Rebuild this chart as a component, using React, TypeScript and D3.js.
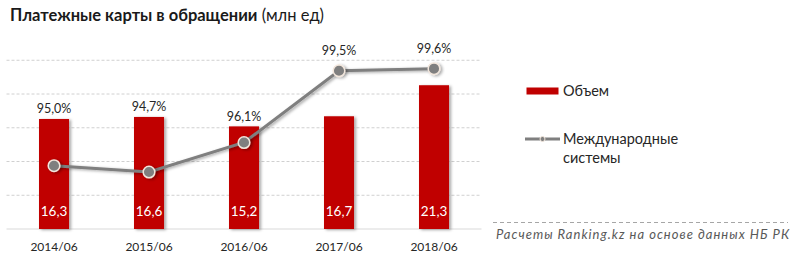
import React from "react";
import * as d3 from "d3";

const categories = ["2014/06", "2015/06", "2016/06", "2017/06", "2018/06"];
const volumes = [16.3, 16.6, 15.2, 16.7, 21.3];
const intlShare = [95.0, 94.7, 96.1, 99.5, 99.6];
const barTicks = [5, 10, 15, 20, 25];

const W = 800;
const H = 262;
const plotLeft = 6.5;
const plotRight = 481.5;
const plotTop = 60.25;
const plotBottom = 229;
const FONT = "Lato, 'Open Sans', sans-serif";
const fmt = (v: number, d: number) => v.toFixed(d).replace(".", ",");

export default function App() {
  const x = d3.scaleBand<string>().domain(categories).range([plotLeft, plotRight]).paddingInner(0.684).paddingOuter(0.342);
  const yBar = d3.scaleLinear().domain([0, 25]).range([plotBottom, plotTop]);
  const yLine = d3.scaleLinear().domain([92, 100]).range([plotBottom, plotTop]);
  const cx = (c: string) => (x(c) as number) + x.bandwidth() / 2;
  const line = d3
    .line<number>()
    .x((_, i) => cx(categories[i]))
    .y((d) => yLine(d));

  return (
    <svg width={W} height={H} style={{ position: "absolute", left: 0, top: 0, background: "#fff" }}>
      <defs>
        <filter id="sh" x="-30%" y="-30%" width="170%" height="170%">
          <feDropShadow dx="2" dy="1" stdDeviation="1.5" floodColor="#000" floodOpacity="0.35" />
        </filter>
      </defs>
      <text x={10} y={21} fontFamily={FONT} fontSize={16.5} fill="#1a1a1a">
        <tspan fontWeight="bold">Платежные карты в обращении</tspan>
        <tspan> (млн ед)</tspan>
      </text>
      {barTicks.map((t) => (
        <line key={t} x1={plotLeft} x2={plotRight} y1={yBar(t)} y2={yBar(t)} stroke="#d0d0d0" strokeWidth={1} strokeDasharray="3,2" />
      ))}
      <line x1={plotLeft} x2={plotRight} y1={plotBottom} y2={plotBottom} stroke="#d9d9d9" strokeWidth={1.2} />
      {categories.map((c, i) => (
        <rect key={c} x={x(c)} y={yBar(volumes[i])} width={x.bandwidth()} height={plotBottom - yBar(volumes[i])} fill="#c00000" filter="url(#sh)" />
      ))}
      {categories.map((c, i) => (
        <text key={c} x={cx(c)} y={216} textAnchor="middle" fontFamily={FONT} fontSize={13.5} fill="#fff">
          {fmt(volumes[i], 1)}
        </text>
      ))}
      <path d={line(intlShare) || ""} fill="none" stroke="#7f7f7f" strokeWidth={3} filter="url(#sh)" />
      {categories.map((c, i) => (
        <circle key={c} cx={cx(c)} cy={yLine(intlShare[i])} r={5.8} fill="#7f7f7f" stroke="#f2e6dc" strokeWidth={1.5} filter="url(#sh)" />
      ))}
      {categories.map((c, i) => {
        const ly = Math.min(yBar(volumes[i]) - 10, yLine(intlShare[i]) - 20);
        return (
          <text key={c} x={cx(c)} y={ly + 4.5} textAnchor="middle" fontFamily={FONT} fontSize={12.5} fill="#262626">
            {fmt(intlShare[i], 1)}%
          </text>
        );
      })}
      {categories.map((c) => (
        <text key={c} x={cx(c)} y={251} textAnchor="middle" fontFamily={FONT} fontSize={12} fill="#262626">
          {c}
        </text>
      ))}
      <rect x={526.5} y={87.5} width={32} height={7} fill="#c00000" />
      <text x={563} y={95.5} fontFamily={FONT} fontSize={14.5} fill="#262626">Объем</text>
      <line x1={525} x2={560} y1={139} y2={139} stroke="#7f7f7f" strokeWidth={3} />
      <circle cx={542.5} cy={139} r={2.5} fill="#7f7f7f" stroke="#f2e6dc" strokeWidth={1} />
      <text x={563} y={143.5} fontFamily={FONT} fontSize={14.5} fill="#262626">Международные</text>
      <text x={563} y={162.5} fontFamily={FONT} fontSize={14.5} fill="#262626">системы</text>
      <line x1={493} x2={788} y1={222.5} y2={222.5} stroke="#a6a6a6" strokeWidth={1} strokeDasharray="4,3" />
      <text x={496} y={239} fontFamily={FONT} fontSize={13} fontStyle="italic" fill="#595959" textLength={293} lengthAdjust="spacing">
        Расчеты Ranking.kz на основе данных  НБ РК
      </text>
    </svg>
  );
}
